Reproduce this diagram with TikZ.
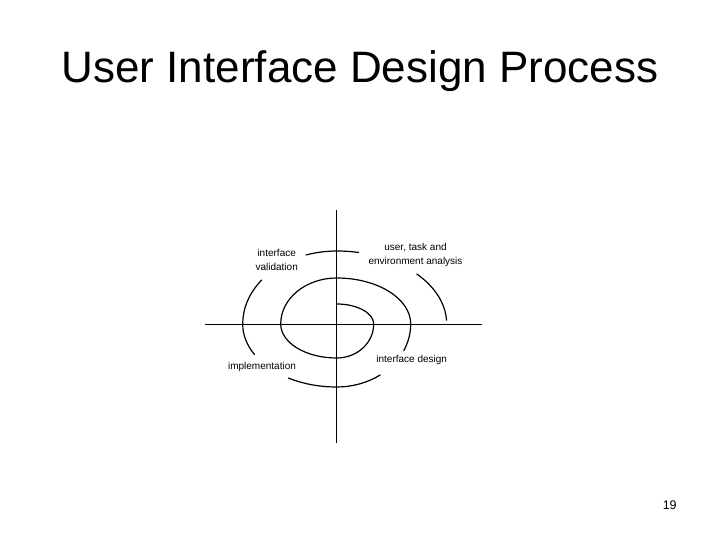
\documentclass[tikz,border=0pt]{standalone}
\usepackage{fontspec}
\setmainfont{Liberation Sans}
\usetikzlibrary{calc}
\begin{document}
\begin{tikzpicture}[x=1pt,y=-1pt,
  axis/.style={line width=0.8pt,black},
  spiral/.style={line width=1.2pt,black,line cap=round},
  lbl/.style={font=\fontsize{10}{13.5}\selectfont,align=center,inner sep=0pt}]
\fill[white] (0,0) rectangle (720,540);
\useasboundingbox (0,0) rectangle (720,540);
% title
\node[anchor=base,inner sep=0pt,font=\fontsize{44}{48}\selectfont] (title) at (360,83) {User Interface Design Process};
\node[anchor=base,inner sep=0pt,font=\fontsize{12.5}{14}\selectfont] (page) at (669.7,509) {19};
% axes
\coordinate (vt) at (336.7,210);
\coordinate (vb) at (336.7,443);
\coordinate (hl) at (205,324);
\coordinate (hr) at (482,324);
\draw[axis] (vt) -- (vb);
\draw[axis] (hl) -- (hr);
\coordinate (c) at (336.7,324);
% spiral, inner continuous part
\coordinate (s0) at (336.7,304);
\draw[spiral] (s0) arc[start angle=-90,end angle=0,x radius=37,y radius=20]
  arc[start angle=0,end angle=90,x radius=37,y radius=34]
  arc[start angle=90,end angle=180,x radius=56,y radius=34]
  arc[start angle=180,end angle=270,x radius=56,y radius=46]
  arc[start angle=270,end angle=360,x radius=74,y radius=46]
  arc[start angle=0,end angle=25,x radius=74,y radius=63];
% bottom arc
\coordinate (b0) at ($(c)+({74*cos(54)},{63*sin(54)})$);
\draw[spiral] (b0)
  arc[start angle=54,end angle=90,x radius=74,y radius=63]
  arc[start angle=90,end angle=121,x radius=94,y radius=63];
% left arc
\coordinate (l0) at ($(c)+({94*cos(151)},{63*sin(151)})$);
\draw[spiral] (l0)
  arc[start angle=151,end angle=180,x radius=94,y radius=63]
  arc[start angle=180,end angle=217,x radius=94,y radius=73];
% top arc
\coordinate (t0) at ($(c)+({94*cos(251)},{73*sin(251)})$);
\draw[spiral] (t0)
  arc[start angle=251,end angle=270,x radius=94,y radius=73]
  arc[start angle=270,end angle=281.5,x radius=110,y radius=73];
% right arc
\coordinate (r0) at ($(c)+({110*cos(316.7)},{73*sin(316.7)})$);
\draw[spiral] (r0)
  arc[start angle=316.7,end angle=357,x radius=110,y radius=73];
% labels
\node[lbl] (val) at (276.7,260) {interface\\validation};
\node[lbl] (ana) at (415.5,255) {user, task and\\environment analysis};
\node[lbl] (imp) at (262,366.5) {implementation};
\node[lbl] (des) at (411.7,360) {interface design};
\end{tikzpicture}
\end{document}
